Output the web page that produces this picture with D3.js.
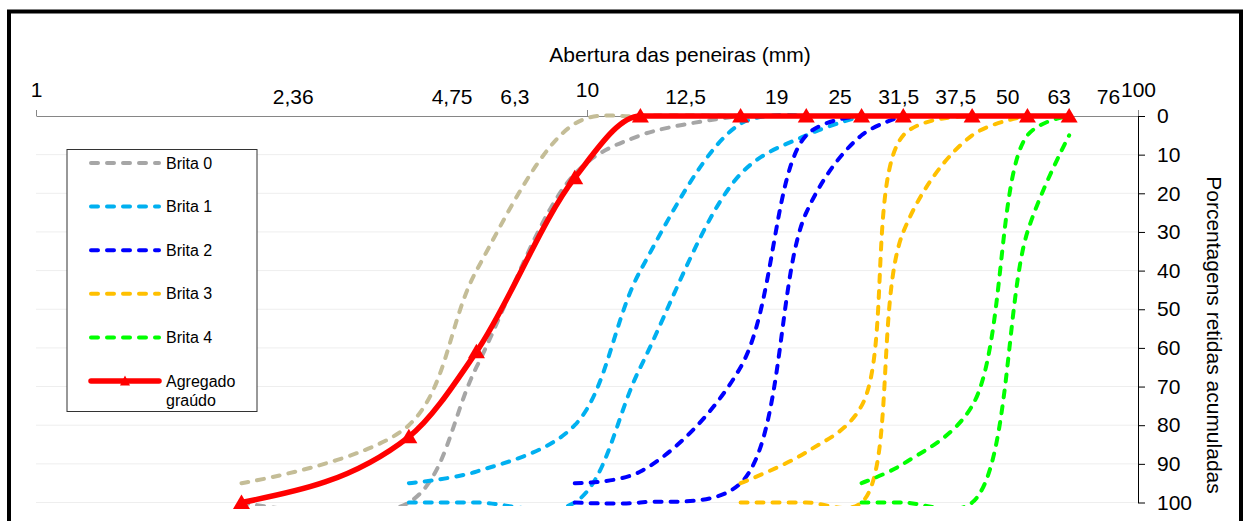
<html>
<head>
<meta charset="utf-8">
<script src="https://d3js.org/d3.v7.min.js"></script>
<style>
  body { margin: 0; background: #fff; }
  svg { font-family: "Liberation Sans", Arial, sans-serif; }
  .axis text { font-size: 21px; fill: #000; }
  .x.axis path, .x.axis line { stroke: #868686; }
  .y.axis path, .y.axis line { stroke: #000; }
</style>
</head>
<body>
<div id="chart"></div>
<script>
// aberturas das peneiras (mm)
var sieves = [2.36, 4.75, 6.3, 9.5, 12.5, 19, 25, 31.5, 37.5, 50, 63, 75];

// porcentagens retidas acumuladas, limites de cada zona (null = fora da zona)
var brita0Min = [95, 80, 40, 2, 0, 0, null, null, null, null, null, null];
var brita0Max = [100, 100, 65, 15, 5, 0, null, null, null, null, null, null];
var brita1Min = [null, 95, 92, 80, 40, 2, 0, null, null, null, null, null];
var brita1Max = [null, 100, 100, 100, 65, 15, 5, 0, null, null, null, null];
var brita2Min = [null, null, null, 95, 92, 65, 5, 0, null, null, null, null];
var brita2Max = [null, null, null, 100, 100, 95, 25, 5, 0, null, null, null];
var brita3Min = [null, null, null, null, null, 95, 87, 75, 5, 0, null, null];
var brita3Max = [null, null, null, null, null, 100, 100, 100, 30, 5, 0, null];
var brita4Min = [null, null, null, null, null, null, null, 95, 90, 75, 5, 0];
var brita4Max = [null, null, null, null, null, null, null, 100, 100, 100, 30, 5];
var agregado  = [100, 83, 61, 16, 0, 0, 0, 0, 0, 0, 0, 0];

var xTicks = [1, 10, 100];
var yTicks = [0, 10, 20, 30, 40, 50, 60, 70, 80, 90, 100];

// rótulos das peneiras escritos sobre o eixo, e onde ficam (mm)
var sieveLabels  = ["2,36", "4,75", "6,3", "12,5", "19", "25", "31,5", "37,5", "50", "63", "76"];
var sieveLabelAt = [2.93, 5.69, 7.40, 15.1, 22.1, 28.8, 36.8, 46.7, 58.0, 71.9, 88.4];

var legendLabels = ["Brita 0", "Brita 1", "Brita 2", "Brita 3", "Brita 4", "Agregado graúdo"];

var width = 1246;
var height = 521;

var svg = d3.select("#chart").append("svg")
  .attr("width", width)
  .attr("height", height);

/* Scales */
var xScale = d3.scaleLog().domain([1, 100]).range([36, 1138]);
var yScale = d3.scaleLinear().domain([0, 100]).range([116, 502.5]);

/* Outer frame */
svg.append("rect")
  .attr("x", 9).attr("y", 11.5)
  .attr("width", 1232).attr("height", 560)
  .attr("fill", "none")
  .attr("stroke", "#000")
  .attr("stroke-width", 4);

/* Gridlines */
svg.append("g")
  .selectAll("line")
  .data(yTicks.filter(d => d > 0)).enter()
  .append("line")
  .attr("x1", xScale(1)).attr("x2", xScale(100))
  .attr("y1", d => yScale(d)).attr("y2", d => yScale(d))
  .attr("stroke", "#EEEEEE")
  .attr("stroke-width", 1);

/* Axes */
var xAxis = d3.axisTop(xScale)
  .tickValues(xTicks)
  .tickFormat(d3.format("d"))
  .tickSize(6).tickSizeOuter(0).tickPadding(13);

svg.append("g")
  .attr("class", "x axis")
  .attr("transform", `translate(0, ${yScale(0)})`)
  .call(xAxis);

var yAxis = d3.axisRight(yScale)
  .tickValues(yTicks)
  .tickSize(7).tickSizeOuter(0).tickPadding(12);

svg.append("g")
  .attr("class", "y axis")
  .attr("transform", `translate(${xScale(100)}, 0)`)
  .call(yAxis);

svg.selectAll(".axis").attr("font-family", null).attr("font-size", null);

/* Titles */
svg.append("text")
  .attr("x", 680).attr("y", 62)
  .attr("text-anchor", "middle")
  .attr("font-size", 21)
  .text("Abertura das peneiras (mm)");

svg.append("text")
  .attr("transform", "translate(1214, 335) rotate(90)")
  .attr("text-anchor", "middle")
  .attr("dominant-baseline", "central")
  .attr("font-size", 21)
  .text("Porcentagens retidas acumuladas");

/* Sieve labels */
svg.append("g")
  .selectAll("text")
  .data(sieveLabels).enter()
  .append("text")
  .attr("x", (d, i) => xScale(sieveLabelAt[i]))
  .attr("y", 104)
  .attr("text-anchor", "middle")
  .attr("font-size", 21)
  .text(d => d);

/* Dashed limit curves */
svg.append("clipPath").attr("id", "plot-clip")
  .append("rect")
  .attr("x", xScale(1)).attr("y", 113)
  .attr("width", xScale(100) - xScale(1))
  .attr("height", 393);

var limits = [
  {values: brita0Min, color: "#C4BD97"},
  {values: brita0Max, color: "#A6A6A6"},
  {values: brita1Min, color: "#00B0F0"},
  {values: brita1Max, color: "#00B0F0"},
  {values: brita2Min, color: "#0000FF"},
  {values: brita2Max, color: "#0000FF"},
  {values: brita3Min, color: "#FFC000"},
  {values: brita3Max, color: "#FFC000"},
  {values: brita4Min, color: "#00FF00"},
  {values: brita4Max, color: "#00FF00"}
];

function toPoints(values) {
  return sieves.map((s, i) => ({size: s, pct: values[i]}))
    .filter(d => d.pct !== null);
}

var smoothLine = d3.line()
  .x(d => xScale(d.size))
  .y(d => yScale(d.pct))
  .curve(d3.curveCatmullRom.alpha(0.5));

svg.append("g")
  .attr("clip-path", "url(#plot-clip)")
  .selectAll("path")
  .data(limits).enter()
  .append("path")
  .attr("d", d => smoothLine(toPoints(d.values)))
  .attr("fill", "none")
  .attr("stroke", d => d.color)
  .attr("stroke-width", 4)
  .attr("stroke-dasharray", "7,9")
  .attr("stroke-linecap", "round");

/* Agregado graúdo */
var redLine = d3.line()
  .x(d => xScale(d.size))
  .y(d => yScale(d.pct))
  .curve(d3.curveMonotoneX);

var redPoints = toPoints(agregado);

svg.append("path")
  .attr("d", redLine(redPoints))
  .attr("fill", "none")
  .attr("stroke", "#FF0000")
  .attr("stroke-width", 5.5)
  .attr("stroke-linejoin", "round");

svg.append("g")
  .selectAll("path")
  .data(redPoints).enter()
  .append("path")
  .attr("d", "M0,-8L8.5,6.5L-8.5,6.5Z")
  .attr("transform", d => `translate(${xScale(d.size)}, ${yScale(d.pct)})`)
  .attr("fill", "#FF0000");

/* Legend */
var legend = svg.append("g").attr("class", "legend");

legend.append("rect")
  .attr("x", 67).attr("y", 149.5)
  .attr("width", 190).attr("height", 262)
  .attr("fill", "#fff")
  .attr("stroke", "#333")
  .attr("stroke-width", 1);

var legendColors = ["#A6A6A6", "#00B0F0", "#0000FF", "#FFC000", "#00FF00", "#FF0000"];

var rows = legend.selectAll(".row")
  .data(legendLabels).enter()
  .append("g")
  .attr("class", "row")
  .attr("transform", (d, i) => `translate(0, ${163 + i * 43.6})`);

rows.append("line")
  .attr("x1", 91).attr("x2", 159)
  .attr("stroke", (d, i) => legendColors[i])
  .attr("stroke-width", (d, i) => i === 5 ? 5.5 : 4)
  .attr("stroke-linecap", "round")
  .attr("stroke-dasharray", (d, i) => i === 5 ? null : "7,9");

rows.filter((d, i) => i === 5)
  .append("path")
  .attr("d", "M0,-5.5L5,4.5L-5,4.5Z")
  .attr("transform", "translate(125, 0)")
  .attr("fill", "#FF0000");

rows.append("text")
  .attr("x", 166)
  .attr("font-size", 16)
  .attr("dy", "0.35em")
  .each(function(d) {
    var words = d.split(" ");
    var t = d3.select(this);
    if (words.length > 1 && d.length > 8) {
      t.append("tspan").attr("x", 166).text(words[0]);
      t.append("tspan").attr("x", 166).attr("dy", "1.2em").text(words.slice(1).join(" "));
    } else {
      t.text(d);
    }
  });
</script>
</body>
</html>
